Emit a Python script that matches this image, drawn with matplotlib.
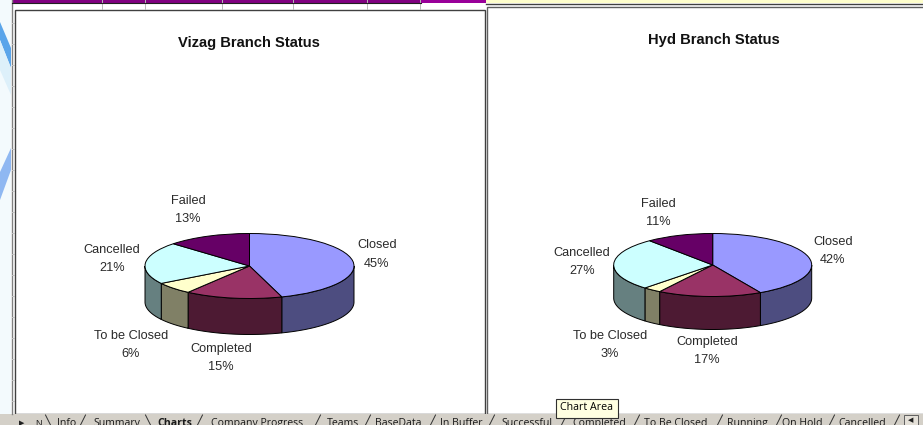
"""Two 3-D look pies from an Excel screenshot: Vizag and Hyd branch status."""
import numpy as np
import matplotlib
matplotlib.use("Agg")
import matplotlib.pyplot as plt
from matplotlib.patches import Polygon, Rectangle

plt.rcParams["font.family"] = ["Liberation Sans", "DejaVu Sans"]

W, H = 923, 425

# ── Data ──────────────────────────────────────────────────────────────────────
CATEGORIES = ["Closed", "Completed", "To be Closed", "Cancelled", "Failed"]
VIZAG = [45, 15, 6, 21, 13]
HYD = [42, 17, 3, 27, 11]
TABS = ["Info", "Summary", "Charts", "Company Progress", "Teams", "BaseData", "In Buffer",
        "Successful", "Completed", "To Be Closed", "Running", "On Hold", "Cancelled"]
TAB_X = [67, 117, 175, 257, 343, 398, 461, 527, 599, 676, 747, 802, 862]
TAB_SLASH_X = [83, 200, 318, 368, 433, 492, 564, 637, 720, 779, 832, 897]

C_TOP = ["#9999FF", "#993366", "#FFFFCC", "#CCFFFF", "#660066"]
C_SIDE = ["#4D4D80", "#4D1A33", "#808066", "#668080", "#330033"]


def draw_pie(values, cx, cy, rx, ry, depth):
    # axes sized so one data unit is rx across and ry down: pie comes out elliptical
    ax = fig.add_axes([(cx - 1.25 * rx) / W, 1 - (cy + 1.25 * ry) / H, 2.5 * rx / W, 2.5 * ry / H])
    ax.pie(values, colors=C_TOP, startangle=90, counterclock=False, radius=1,
           wedgeprops=dict(edgecolor="black", linewidth=0.7, zorder=3))
    ax.set_aspect("auto")
    ax.set_xlim(-1.25, 1.25)
    ax.set_ylim(-1.25, 1.25)
    ax.patch.set_alpha(0)

    # walls: front half of each slice, dropped by the pie depth
    d = depth / ry
    edges = np.cumsum([0] + list(values)) / sum(values) * 360
    for i in range(len(values)):
        a0, a1 = max(edges[i], 90), min(edges[i + 1], 270)
        if a1 <= a0:
            continue
        t = np.radians(np.linspace(a0, a1, 60))
        x, y = np.sin(t), np.cos(t)
        pts = np.r_[np.c_[x, y], np.c_[x[::-1], y[::-1] - d]]
        ax.add_patch(Polygon(pts, closed=True, facecolor=C_SIDE[i], edgecolor="black",
                             linewidth=0.7, zorder=2, clip_on=False))


def labels(values, xs, ys):
    for name, v, x, y in zip(CATEGORIES, values, xs, ys):
        bg.text(x, y, f"{name}\n{v}%", ha="center", va="center", fontsize=9.2,
                color="#2a2a2a", linespacing=1.75)


fig = plt.figure(figsize=(W / 100, H / 100), dpi=100, facecolor="white")

# ── Sheet background, in pixel coordinates ────────────────────────────────────
bg = fig.add_axes([0, 0, 1, 1])
bg.set_xlim(0, W)
bg.set_ylim(H, 0)
bg.axis("off")

# watermark stripes and sheet edge at far left
bg.add_patch(Rectangle((0, 0), 11, 414, facecolor="#F3FAFD", edgecolor="none"))
bg.add_patch(Polygon([(0, 22), (0, 40), (11, 68), (11, 48)], facecolor="#5AA5EA", edgecolor="none"))
bg.add_patch(Polygon([(0, 40), (0, 70), (11, 95), (11, 68)], facecolor="#DDF0FA", edgecolor="none"))
bg.add_patch(Polygon([(11, 148), (11, 170), (0, 200), (0, 172)], facecolor="#8FB8F2", edgecolor="none"))
bg.plot([11.5, 11.5], [0, 414], color="#808080", lw=1)
for y in np.arange(23, 414, 21):
    bg.plot([11.5, 14], [y, y], color="#c0c0c0", lw=0.7)

# header band
bg.add_patch(Rectangle((12, 0), 409, 2.5, facecolor="#800080", edgecolor="none"))
bg.add_patch(Rectangle((421, 0), 65, 3, facecolor="#990099", edgecolor="none"))
bg.add_patch(Rectangle((486, 0), 437, 3, facecolor="#FFFFCC", edgecolor="none"))
bg.plot([486, 923], [3.5, 3.5], color="#404040", lw=1)
for x in [102, 145, 222, 293, 367, 420]:
    bg.plot([x, x], [0, 9], color="#b8b8b8", lw=0.7)
bg.plot([12, 421], [3, 3], color="#202020", lw=0.8)

# chart frames
bg.add_patch(Rectangle((14.5, 10), 470, 404, facecolor="white", edgecolor="#404040", lw=1.0))
bg.add_patch(Rectangle((486.5, 7), 440, 407, facecolor="white", edgecolor="#606060", lw=1.0))

# sheet tabs
bg.add_patch(Rectangle((0, 414), W, 11, facecolor="#D4D0C8", edgecolor="none"))
for name, x in zip(TABS, TAB_X):
    bg.text(x, 423.5, name, ha="center", va="center", fontsize=7.6, color="#1a1a1a",
            fontweight="bold" if name == "Charts" else "normal",
            family=["Open Sans", "DejaVu Sans"])
for x in TAB_SLASH_X:
    bg.plot([x - 2.5, x + 2.5], [425, 415], color="#303030", lw=0.7)
for x in [48, 148]:
    bg.plot([x - 2.5, x + 2.5], [415, 425], color="#303030", lw=0.7)
bg.text(22, 424, "\u25b6", ha="center", va="center", fontsize=5, color="#202020")
bg.text(38, 423, "N", ha="center", va="center", fontsize=6.5, color="#202020")
bg.add_patch(Rectangle((904, 415), 14, 10, facecolor="#E4E0D8", edgecolor="#606060", lw=0.7))
bg.text(911, 421, "\u25c0", ha="center", va="center", fontsize=5, color="#202020")

# tooltip
bg.add_patch(Rectangle((556, 398.5), 62, 19, facecolor="#FFFFE1", edgecolor="#303030", lw=0.8, zorder=6))
bg.text(587, 408, "Chart Area", ha="center", va="center", fontsize=7.7, zorder=7,
        family=["Open Sans", "DejaVu Sans"])

# titles
bg.text(249, 43, "Vizag Branch Status", ha="center", va="center", fontsize=10.6,
        fontweight="bold", color="#111111")
bg.text(713.5, 40, "Hyd Branch Status", ha="center", va="center", fontsize=10.6,
        fontweight="bold", color="#111111")

labels(VIZAG, [377, 221, 131, 112, 188], [254.5, 358, 345, 259, 210])
labels(HYD, [833, 707, 610, 582, 658], [251, 351, 345, 262, 213])

draw_pie(VIZAG, 249.5, 266, 104.5, 32.5, 36)
draw_pie(HYD, 712.7, 265, 99, 31.5, 33)

fig.savefig("out.png", dpi=100)
